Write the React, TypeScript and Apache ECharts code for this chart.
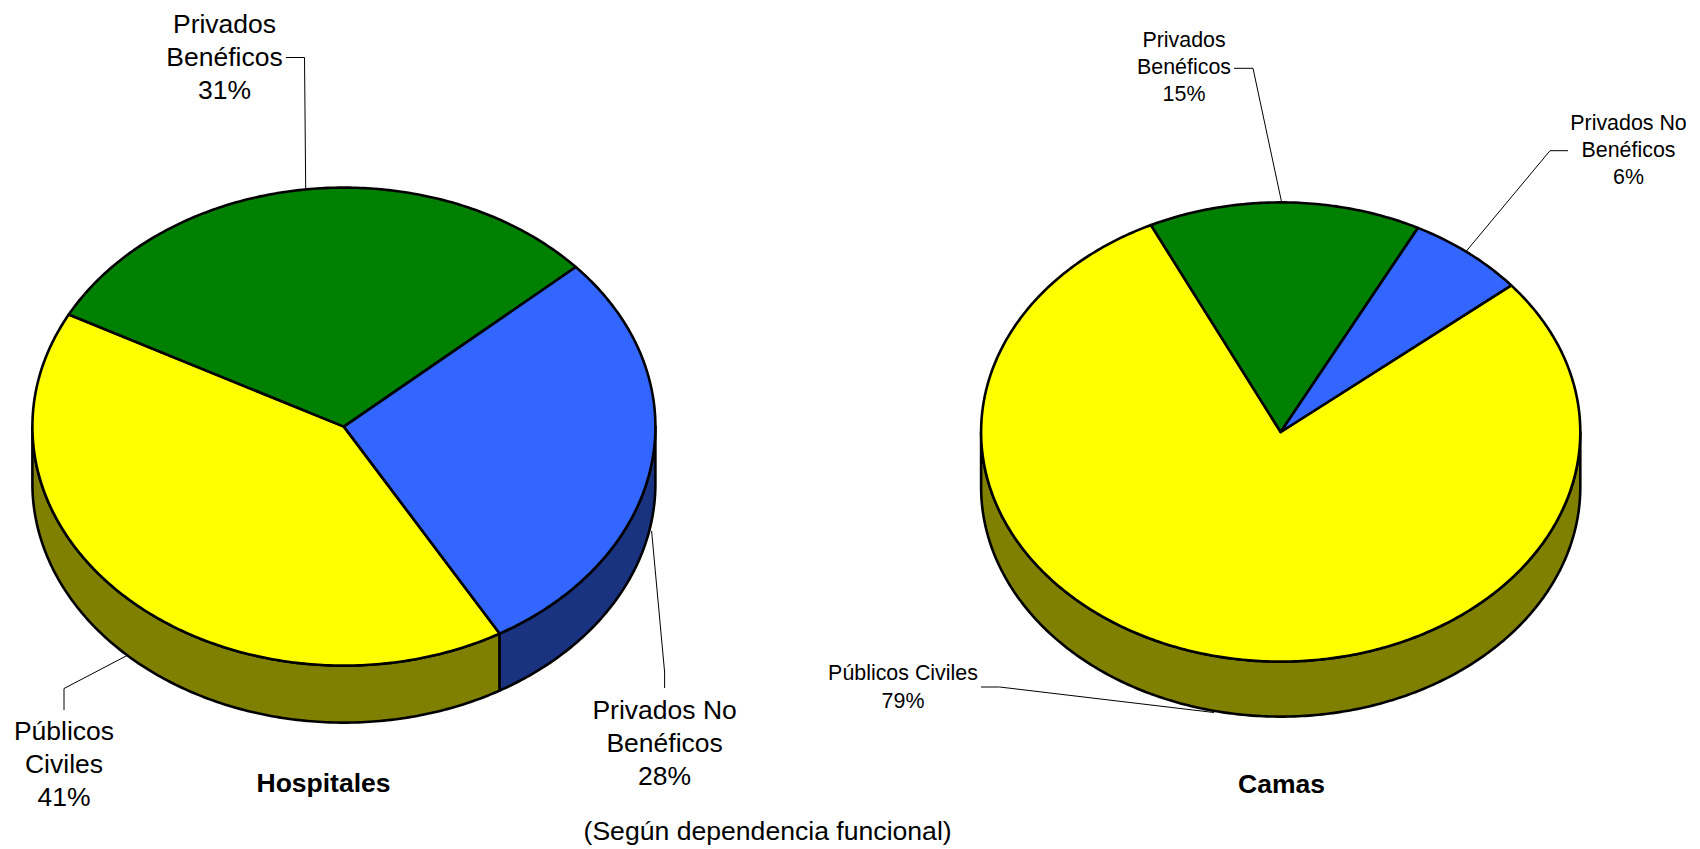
import React, { useEffect, useRef } from "react";
import * as echarts from "echarts";

const categories = ["Públicos Civiles", "Privados Benéficos", "Privados No Benéficos"];
const hospitalesValues = [41.1, 30.6, 28.3];
const camasValues = [78.9, 14.7, 6.4];
const topColors = ["#FFFF00", "#008000", "#3366FF"];
const sideColors = ["#808000", "#004000", "#1A3380"];

const FONT = '"Liberation Sans", Arial, sans-serif';

const hospitalesPie = { cx: 343.9, cy: 426.6, rx: 311.5, ry: 239, depth: 57, startAngle: 150 };
const camasPie = { cx: 1280.7, cy: 432, rx: 299.6, ry: 229.6, depth: 55, startAngle: 50.3 };

type Pie = typeof hospitalesPie;

function ellipsePoint(p: Pie, deg: number, dy = 0): number[] {
  const r = (deg * Math.PI) / 180;
  return [p.cx + p.rx * Math.sin(r), p.cy - p.ry * Math.cos(r) + dy];
}

function arcPoints(p: Pie, from: number, to: number, dy = 0): number[][] {
  const n = Math.max(2, Math.ceil(Math.abs(to - from) * 1.5));
  const pts: number[][] = [];
  for (let i = 0; i <= n; i++) pts.push(ellipsePoint(p, from + ((to - from) * i) / n, dy));
  return pts;
}

function sliceData(values: number[], pie: Pie) {
  const sum = values.reduce((a, b) => a + b, 0);
  let acc = pie.startAngle;
  return values.map((v, i) => {
    const a0 = acc;
    acc += (v / sum) * 360;
    return [a0, acc, i];
  });
}

function pieSeries(values: number[], pie: Pie, name: string) {
  const data = sliceData(values, pie);
  const stroke = { stroke: "#000", lineWidth: 2.6, lineJoin: "round" };
  const side = {
    type: "custom",
    name: name + " lateral",
    coordinateSystem: "none",
    silent: true,
    z: 2,
    data,
    renderItem: (_: any, api: any) => {
      const a0 = api.value(0);
      const a1 = api.value(1);
      const i = api.value(2);
      const children: any[] = [];
      // visible wall is the clockwise range 90..270, possibly reached again after a full turn
      for (const off of [0, 360]) {
        const from = Math.max(a0, 90 + off);
        const to = Math.min(a1, 270 + off);
        if (to > from) {
          const upper = arcPoints(pie, from, to);
          const lower = arcPoints(pie, to, from, pie.depth);
          children.push({
            type: "polygon",
            shape: { points: upper.concat(lower) },
            style: { fill: sideColors[i], ...stroke },
          });
        }
      }
      return { type: "group", children };
    },
  };
  const top = {
    type: "custom",
    name,
    coordinateSystem: "none",
    silent: true,
    z: 3,
    data,
    renderItem: (_: any, api: any) => {
      const a0 = api.value(0);
      const a1 = api.value(1);
      const i = api.value(2);
      const pts = [[pie.cx, pie.cy]].concat(arcPoints(pie, a0, a1));
      return {
        type: "polygon",
        shape: { points: pts },
        style: { fill: topColors[i], ...stroke },
      };
    },
  };
  return [side, top];
}

function pct(values: number[], i: number) {
  const sum = values.reduce((a, b) => a + b, 0);
  return Math.round((values[i] / sum) * 100) + "%";
}

function label(text: string, x: number, y: number, size: number, lineHeight: number, bold = false) {
  return {
    type: "text",
    x,
    y,
    z: 10,
    style: {
      text,
      font: `${bold ? "bold " : ""}${size}px ${FONT}`,
      fill: "#000",
      textAlign: "center",
      textVerticalAlign: "middle",
      lineHeight,
    },
  };
}

function leader(points: number[][]) {
  return {
    type: "polyline",
    z: 1,
    shape: { points },
    style: { stroke: "#000", lineWidth: 1, fill: null },
  };
}

export default function App() {
  const ref = useRef<HTMLDivElement>(null);
  useEffect(() => {
    document.body.style.margin = "0";
    const chart = echarts.init(ref.current!, null, { renderer: "svg" });
    chart.setOption({
      animation: false,
      backgroundColor: "#fff",
      series: [
        ...pieSeries(hospitalesValues, hospitalesPie, "Hospitales"),
        ...pieSeries(camasValues, camasPie, "Camas"),
      ],
      graphic: [
        leader([[286, 57.5], [304.5, 57.5], [305.7, 188]]),
        leader([[64, 710], [64, 688.5], [128, 655]]),
        leader([[651.6, 531], [664.6, 672], [664.6, 688]]),
        leader([[1234, 68.3], [1253, 68.3], [1281.5, 201.7]]),
        leader([[1568, 150.7], [1550, 150.7], [1466, 251.5]]),
        leader([[981, 687], [999.6, 687], [1214, 712.5]]),
        label(`Privados\nBenéficos\n${pct(hospitalesValues, 1)}`, 224.5, 57.3, 26.5, 33),
        label(`Públicos\nCiviles\n${pct(hospitalesValues, 0)}`, 64, 763.5, 26.5, 33),
        label(`Privados No\nBenéficos\n${pct(hospitalesValues, 2)}`, 664.6, 743, 26.5, 33),
        label(`Privados\nBenéficos\n${pct(camasValues, 1)}`, 1184, 67, 21.4, 27),
        label(`Privados No\nBenéficos\n${pct(camasValues, 2)}`, 1628.5, 149.6, 21.4, 27),
        label(`${categories[0]}\n${pct(camasValues, 0)}`, 903, 687.2, 21.4, 28),
        label("Hospitales", 323.5, 782.7, 26.5, 30, true),
        label("Camas", 1281.5, 783.7, 26.5, 30, true),
        label("(Según dependencia funcional)", 767.6, 831, 26.6, 30),
      ],
    });
    return () => chart.dispose();
  }, []);
  return <div ref={ref} style={{ width: 1700, height: 849 }} />;
}
